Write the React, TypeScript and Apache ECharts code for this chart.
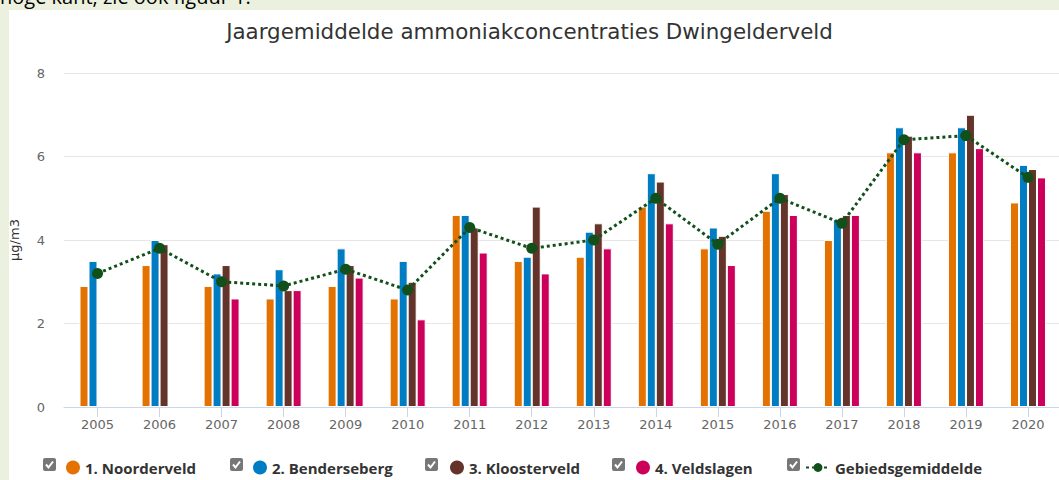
import React, { useEffect, useRef } from "react";
import * as echarts from "echarts";

const categories = ["2005","2006","2007","2008","2009","2010","2011","2012","2013","2014","2015","2016","2017","2018","2019","2020"];
const noorderveld = [2.9, 3.4, 2.9, 2.6, 2.9, 2.6, 4.6, 3.5, 3.6, 4.8, 3.8, 4.7, 4.0, 6.1, 6.1, 4.9];
const benderseberg = [3.5, 4.0, 3.2, 3.3, 3.8, 3.5, 4.6, 3.6, 4.2, 5.6, 4.3, 5.6, 4.5, 6.7, 6.7, 5.8];
const kloosterveld = [null, 3.9, 3.4, 2.8, 3.4, 3.0, 4.3, 4.8, 4.4, 5.4, 4.1, 5.1, 4.6, 6.5, 7.0, 5.7];
const veldslagen = [null, null, 2.6, 2.8, 3.1, 2.1, 3.7, 3.2, 3.8, 4.4, 3.4, 4.6, 4.6, 6.1, 6.2, 5.5];
const gebiedsgemiddelde = [3.2, 3.8, 3.0, 2.9, 3.3, 2.8, 4.3, 3.8, 4.0, 5.0, 3.9, 5.0, 4.4, 6.4, 6.5, 5.5];
const seriesNames = ["1. Noorderveld", "2. Benderseberg", "3. Kloosterveld", "4. Veldslagen", "Gebiedsgemiddelde"];
const yTicks = [0, 2, 4, 6, 8];

const colors = ["#e37200", "#007cc3", "#64342a", "#cc005a", "#11501a"];
const legendLefts = [62, 249, 446, 632, 800];
const checkboxLefts = [43, 230, 425, 612, 787];

export default function App() {
  const ref = useRef<HTMLDivElement>(null);
  useEffect(() => {
    if (!ref.current) return;
    const chart = echarts.init(ref.current, undefined, { renderer: "svg" });
    const axisFont = "DejaVu Sans";
    const legendFont = "Open Sans";
    const barData = [noorderveld, benderseberg, kloosterveld, veldslagen];
    const graphics: any[] = [];
    checkboxLefts.forEach((x) => {
      const y = 458;
      graphics.push({
        type: "rect",
        shape: { x, y, width: 13, height: 13, r: 2 },
        style: { fill: "#777777" },
        silent: true,
      });
      graphics.push({
        type: "polyline",
        shape: { points: [[x + 3, y + 6.5], [x + 5.5, y + 9.5], [x + 10, y + 3.5]] },
        style: { stroke: "#ffffff", lineWidth: 2, fill: "none" },
        silent: true,
      });
    });
    const option: any = {
      animation: false,
      backgroundColor: "transparent",
      title: {
        text: "Jaargemiddelde ammoniakconcentraties Dwingelderveld",
        left: "center",
        top: 16,
        textStyle: { fontFamily: axisFont, fontSize: 21.4, fontWeight: "normal", color: "#333333" },
      },
      graphic: graphics,
      legend: seriesNames.map((n, i) => ({
        data: [{ name: n, icon: i === 4 ? undefined : "circle" }],
        left: i === 4 ? legendLefts[i] : legendLefts[i] - 1,
        top: 455,
        orient: "horizontal",
        itemWidth: i === 4 ? 24 : 14,
        itemHeight: i === 4 ? 11 : 14,
        itemGap: 6,
        selectedMode: false,
        itemStyle: { borderWidth: 0 },
        textStyle: { fontFamily: legendFont, fontSize: 15, fontWeight: "bold", color: "#333333" },
      })),
      grid: [
        { left: 58, right: -3, top: 73, bottom: 73 },
        { left: 66.5, right: -3, top: 73, bottom: 73 },
      ],
      xAxis: [
        {
          type: "value",
          gridIndex: 0,
          min: 0,
          max: 1,
          axisLine: { show: true, lineStyle: { color: "#ccd6eb" } },
          axisTick: { show: false },
          axisLabel: { show: false },
          splitLine: { show: false },
        },
        {
          type: "category",
          gridIndex: 1,
          data: categories,
          axisLine: { show: true, lineStyle: { color: "#ccd6eb" } },
          axisTick: { show: true, alignWithLabel: true, length: 10, lineStyle: { color: "#ccd6eb" } },
          axisLabel: { fontFamily: axisFont, fontSize: 13, color: "#666666", margin: 11 },
          splitLine: { show: false },
        },
      ],
      yAxis: [
        {
          type: "value",
          gridIndex: 0,
          min: yTicks[0],
          max: yTicks[yTicks.length - 1],
          interval: 2,
          name: "µg/m3",
          nameLocation: "middle",
          nameGap: 43,
          nameRotate: 90,
          nameTextStyle: { fontFamily: axisFont, fontSize: 13, color: "#333333" },
          axisLine: { show: false },
          axisTick: { show: false },
          axisLabel: { fontFamily: axisFont, fontSize: 13, color: "#666666", margin: 19 },
          splitLine: { show: true, lineStyle: { color: "#e6e6e6" } },
        },
        {
          type: "value",
          gridIndex: 1,
          min: yTicks[0],
          max: yTicks[yTicks.length - 1],
          interval: 2,
          show: false,
          splitLine: { show: false },
        },
      ],
      series: [
        ...barData.map((d, i) => ({
          name: seriesNames[i],
          type: "bar",
          xAxisIndex: 1,
          yAxisIndex: 1,
          data: d,
          barWidth: 9,
          barGap: "0%",
          itemStyle: { color: colors[i], borderColor: "#ffffff", borderWidth: 1 },
        })),
        {
          name: seriesNames[4],
          type: "line",
          xAxisIndex: 1,
          yAxisIndex: 1,
          data: gebiedsgemiddelde,
          z: 5,
          symbol: "circle",
          symbolSize: 11,
          itemStyle: { color: colors[4] },
          lineStyle: { color: colors[4], width: 3, type: [3, 3] },
        },
      ],
    };
    chart.setOption(option);
    return () => chart.dispose();
  }, []);

  return (
    <div style={{ position: "fixed", left: 0, top: 0, width: 1059, height: 480, background: "#ebf1de", overflow: "hidden" }}>
      <div
        style={{
          position: "absolute",
          left: 0,
          top: -13,
          fontFamily: "Open Sans",
          fontSize: 20,
          lineHeight: "20px",
          color: "#000",
          whiteSpace: "nowrap",
        }}
      >
        hoge kant, zie ook figuur 1.
      </div>
      <div style={{ position: "absolute", left: 9, top: 10, width: 1050, height: 470, background: "#ffffff" }} />
      <div ref={ref} style={{ position: "absolute", left: 0, top: 0, width: 1059, height: 480 }} />
    </div>
  );
}
